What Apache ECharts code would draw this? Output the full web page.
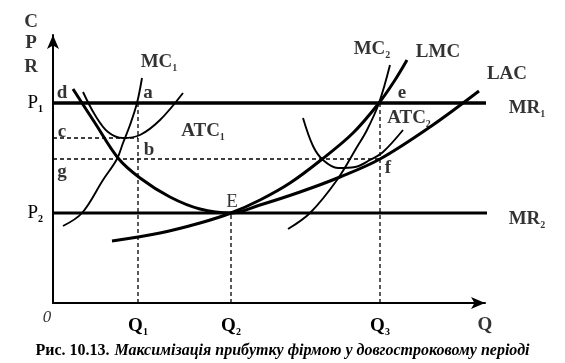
<!DOCTYPE html>
<html><head><meta charset="utf-8">
<script src="https://cdn.jsdelivr.net/npm/echarts@6/dist/echarts.min.js"></script>
<style>html,body{margin:0;padding:0;background:#fff}#c{width:565px;height:363px}</style>
</head><body><div id="c"></div>
<script>
// Quantity (x) and cost/price (y) in schematic units
const qTicks = [85, 178, 327];
const qTickLabels = ['Q{s|1}', 'Q{s|2}', 'Q{s|3}'];
const pTicks = [90, 200];
const pTickLabels = ['P{s|2}', 'P{s|1}'];
const Q1 = 85, Q2 = 178, Q3 = 327, QMAX = 432;
const P1 = 200, P2 = 90, cLevel = 165, gLevel = 144, PMAX = 268;

const lac  = [[20,214],[42,180],[65,145],[87,125],[117,106],[147,94],[178,90],[207,98],[247,111],[287,126],[327,144],[377,176],[426,212]];
const lmc  = [[59,62],[107,70],[147,80],[178,90],[207,103],[237,120],[268,143],[300,170],[326,200],[342,223],[354,243]];
const mc1  = [[10,77],[29,90],[50,123],[64,144],[70,160],[77,178],[84,200],[89,225]];
const atc1 = [[30,211],[42,188],[55,171],[70,165],[87,168],[107,183],[130,210]];
const mc2  = [[235,74],[257,90],[284,123],[304,156],[314,173],[326,200],[337,238]];
const atc2 = [[250,185],[260,157],[270,143],[285,135],[302,136],[317,143],[330,151],[350,173]];
const mr1  = [[0,P1],[433,P1]];
const mr2  = [[0,P2],[434,P2]];

const dashes = [
  [[0,cLevel],[Q1,cLevel]],
  [[0,gLevel],[Q3,gLevel]],
  [[Q1,0],[Q1,P1]],
  [[Q2,0],[Q2,P2]],
  [[Q3,0],[Q3,P1]]
];

// annotations: text, x, y, style
const notes = [
  ['C',-22,281,'b'],['P',-22,260,'b'],['R',-22,236,'b'],
  ['d',9,210,'b'],['a',95,210,'b'],['c',9,171,'b'],['b',96,153,'b'],['g',9,131,'b'],
  ['E',179,101,'r'],['e',349,210,'b'],['f',335,135,'b'],
  ['MC{s|1}',106,241,'b'],['ATC{s|1}',150,172,'b'],['MC{s|2}',319,254,'b'],
  ['LMC',385,251,'b'],['LAC',454,229,'b'],['MR{s|1}',474,195,'b'],
  ['ATC{s|2}',356,185,'b'],['MR{s|2}',474,84,'b'],
  ['0',-6,-15,'i'],['Q',432,-22,'b']
];

const FONT = '"Liberation Serif", "Times New Roman", serif';
const rich = {
  b: {fontFamily: FONT, fontWeight: 'bold', fontSize: 19, color: '#000', lineHeight: 22},
  r: {fontFamily: FONT, fontWeight: 'normal', fontSize: 19, color: '#000', lineHeight: 22},
  i: {fontFamily: FONT, fontStyle: 'italic', fontSize: 17, color: '#000', lineHeight: 22},
  s: {fontFamily: FONT, fontWeight: 'bold', fontSize: 10, color: '#000', verticalAlign: 'bottom', lineHeight: 22, padding: [0,0,0,0]}
};

function curve(name, data, w) {
  return {name, type: 'line', data, showSymbol: false, smooth: 0.35, smoothMonotone: null,
    lineStyle: {color: '#000', width: w}, z: 3, silent: true};
}
const series = [
  curve('LAC', lac, 3), curve('LMC', lmc, 3),
  curve('MC1', mc1, 1.9), curve('ATC1', atc1, 1.9),
  curve('MC2', mc2, 1.9), curve('ATC2', atc2, 1.9),
  {type:'line', data: mr1, showSymbol:false, lineStyle:{color:'#000', width:3.5}, silent:true},
  {type:'line', data: mr2, showSymbol:false, lineStyle:{color:'#000', width:3}, silent:true}
];
dashes.forEach(d => series.push({type:'line', data:d, showSymbol:false, silent:true,
  lineStyle:{color:'#000', width:1.3, type:[4,3]}}));
series.push({
  type:'scatter', clip:false, silent:true, symbolSize:0,
  data: notes.map(n => ({value:[n[1], n[2]], name:n[0]})),
  label: {show:true, position:'inside', rich,
    formatter: p => {
      const st = notes[p.dataIndex][3];
      return p.name.replace(/^([^{]+)/, '{' + st + '|$1}');
    }}
});

const chart = echarts.init(document.getElementById('c'));
chart.setOption({
  animation: false,
  backgroundColor: '#fff',
  grid: {left: 53, right: 80, top: 35, bottom: 60},
  title: {
    text: '{h|Рис. 10.13.} {t|Максимізація прибутку фірмою у довгостроковому періоді}',
    left: 'center', top: 337,
    textStyle: {rich: {
      h: {fontFamily: FONT, fontWeight:'bold', fontSize: 16, color:'#000'},
      t: {fontFamily: FONT, fontWeight:'bold', fontStyle:'italic', fontSize: 16, color:'#000'}
    }}
  },
  xAxis: {type:'value', min:0, max:QMAX,
    axisLine:{show:true, onZero:false, symbol:['none','arrow'], symbolSize:[9,14], lineStyle:{color:'#000', width:2}},
    axisTick:{show:false}, splitLine:{show:false},
    axisLabel:{show:true, customValues: qTicks, margin: 12, rich,
      formatter: v => '{b|' + qTickLabels[qTicks.indexOf(v)].replace('{s|', '}{s|')}
  },
  yAxis: {type:'value', min:0, max:PMAX,
    axisLine:{show:true, onZero:false, symbol:['none','arrow'], symbolSize:[9,14], lineStyle:{color:'#000', width:2}},
    axisTick:{show:false}, splitLine:{show:false},
    axisLabel:{show:true, customValues: pTicks, margin: 10, rich,
      formatter: v => '{r|' + pTickLabels[pTicks.indexOf(v)].replace('{s|', '}{s|')}
  },
  series
});
</script></body></html>
